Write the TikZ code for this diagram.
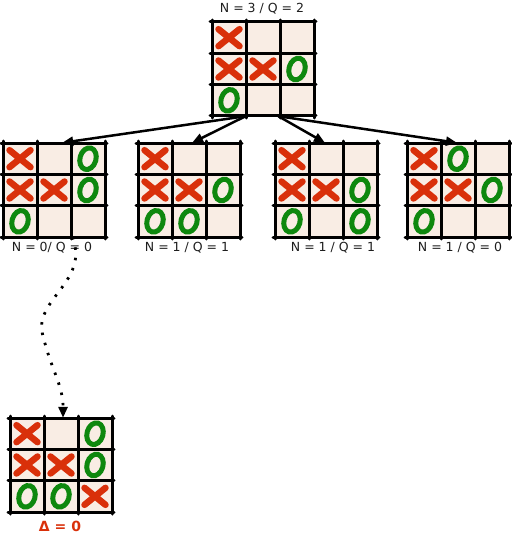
\documentclass[tikz,border=0pt]{standalone}
\usepackage{fontspec}
\setmainfont{DejaVu Sans}
\usetikzlibrary{calc,arrows.meta}
\definecolor{cellfill}{RGB}{249,237,228}
\definecolor{xred}{RGB}{217,48,10}
\definecolor{ogreen}{RGB}{14,136,14}
\definecolor{txt}{RGB}{30,30,30}
\tikzset{
  boardbox/.style={rectangle,fill=cellfill,draw=none,inner sep=0pt,minimum width=102pt,minimum height=94pt},
  gridline/.style={line width=3pt,line cap=round,black},
  xmark/.style={line width=6.5pt,line cap=round,xred},
  omark/.style={line width=5pt,ogreen},
  xm/.pic={\draw[xmark] (-10.5,-8.5) -- (10.5,8.5) (-10.5,8.5) -- (10.5,-8.5);},
  om/.pic={\draw[omark] (0,0) ellipse[x radius=8, y radius=11, rotate=-16];},
  lbl/.style={font=\fontsize{12.5}{15}\selectfont,text=txt,inner sep=0pt},
  tarrow/.style={line width=2.5pt,-{Triangle[length=11pt,width=9pt]}},
  dotarrow/.style={line width=2.8pt,dash pattern=on 2.5pt off 8pt,-{Triangle[length=11pt,width=9pt]}},
}
\newcommand\tttboard[5]{%
  \node[boardbox] (#1) at (#2+51,#3+47) {};
  \foreach \i in {0,1,2,3} {
    \draw[gridline] (#2+\i*34,#3-2) -- (#2+\i*34,#3+96);
    \draw[gridline] (#2-2,#3+\i*31.333) -- (#2+104,#3+\i*31.333);
  }
  \foreach \c/\r in {#4} \pic at (#2+\c*34+17,#3+\r*31.333+15.67) {xm};
  \foreach \c/\r in {#5} \pic at (#2+\c*34+17,#3+\r*31.333+15.67) {om};
}
\begin{document}
\begin{tikzpicture}[x=1pt,y=-1pt]
\useasboundingbox (0,0) rectangle (511,535);
\tttboard{t}{212}{22}{0/0,0/1,1/1}{2/1,0/2}
\tttboard{b1}{3}{143}{0/0,0/1,1/1}{2/0,2/1,0/2}
\tttboard{b2}{138}{143}{0/0,0/1,1/1}{2/1,0/2,1/2}
\tttboard{b3}{275}{143}{0/0,0/1,1/1}{2/1,0/2,2/2}
\tttboard{b4}{407}{143}{0/0,0/1,1/1}{1/0,2/1,0/2}
\tttboard{b5}{10}{418}{0/0,0/1,1/1,2/2}{2/0,2/1,0/2,1/2}
\node[lbl] (lt) at (262,9) {N = 3 / Q = 2};
\node[lbl] (l1) at (52,248) {N = 0/ Q = 0};
\node[lbl] (l2) at (187,248) {N = 1 / Q = 1};
\node[lbl] (l3) at (333,248) {N = 1 / Q = 1};
\node[lbl] (l4) at (460,248) {N = 1 / Q = 0};
\node[lbl,font=\fontsize{14}{16}\selectfont\bfseries,text=xred] (l5) at (60,526) {Δ = 0};
\draw[tarrow] ($(t.south west)!0.33!(t.south east)$) -- ($(b1.north west)!0.58!(b1.north east)$);
\draw[tarrow] ($(t.south west)!0.33!(t.south east)$) -- ($(b2.north west)!0.53!(b2.north east)$);
\draw[tarrow] ($(t.south west)!0.65!(t.south east)$) -- ($(b3.north west)!0.49!(b3.north east)$);
\draw[tarrow] ($(t.south west)!0.65!(t.south east)$) -- ($(b4.north west)!0.49!(b4.north east)$);
\coordinate (mid) at (43,336);
\draw[dotarrow] ($(b1.south west)!0.68!(b1.south east)$) .. controls (90,282) and (32,300) .. (mid) .. controls (52,372) and (63,385) .. ($(b5.north west)!0.52!(b5.north east)$);
\end{tikzpicture}
\end{document}
